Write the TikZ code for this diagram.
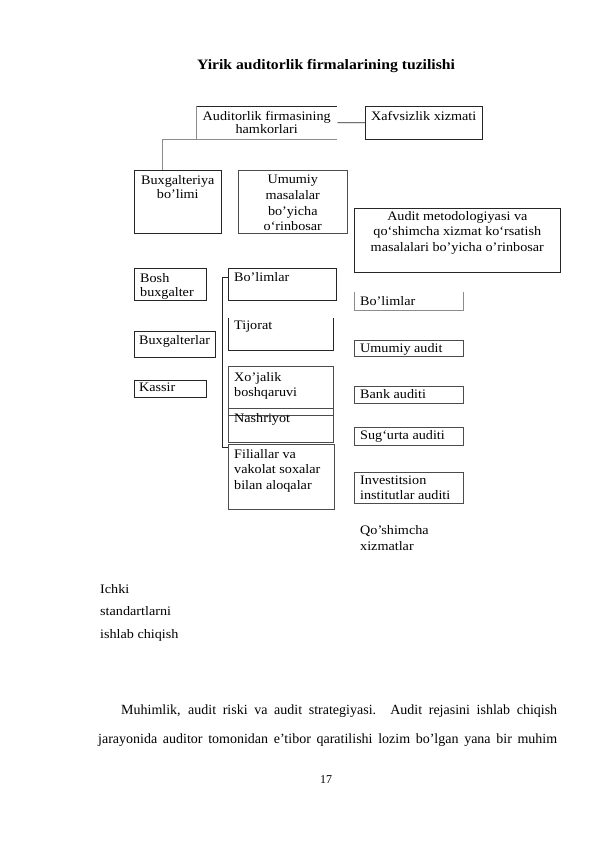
\documentclass[tikz,border=0pt]{standalone}
\usepackage{fontspec}
\setmainfont{Liberation Serif}
\newfontfamily\boxfont{Liberation Serif}[FakeStretch=1.09]
\usetikzlibrary{positioning}

\begin{document}
\begin{tikzpicture}[
  x=1pt, y=-1pt,
  every node/.style={font=\boxfont\fontsize{13}{15.6}\selectfont},
  box/.style={draw=black!85, line width=0.6pt, anchor=north west, inner sep=0pt},
  bare/.style={anchor=north west, inner sep=0pt},
  txt/.style={inner sep=0pt, align=center, anchor=north},
  txtl/.style={inner sep=0pt, align=left, anchor=north west},
  edge/.style={draw=black!85, line width=0.6pt},
  soft/.style={draw=black!45, line width=0.6pt}
]
\fill[white] (0,0) rectangle (595,842);
\useasboundingbox (0,0) rectangle (595,842);

% ----- Sarlavha -----
\node[font=\boxfont\fontsize{14.4}{16}\selectfont\bfseries] (title) at (326,66)
  {Yirik auditorlik firmalarining tuzilishi};

% ----- Yuqori qator -----
\node[bare, minimum width=141pt, minimum height=33pt] (hamkor) at (196,106) {};
\node[box, minimum width=117pt, minimum height=33pt] (xafv) at (365,106) {};
\draw[edge] (hamkor.north west) -- (hamkor.north east);
\draw[soft] (hamkor.north west) -- (hamkor.south west) -- (hamkor.south east);
\node[txt, font=\boxfont\fontsize{13}{13.5}\selectfont, below=5pt of hamkor.north]
  {Auditorlik firmasining\\hamkorlari};
\node[txtl, below right=5pt and 6pt of xafv.north west] {Xafvsizlik xizmati};

% ----- O'rinbosarlar -----
\node[box, minimum width=87pt, minimum height=63pt] (buxbol) at (134,170) {};
\node[box, draw=black!70, minimum width=109pt, minimum height=63pt] (umumiy) at (238,170) {};
\node[box, minimum width=206pt, minimum height=64pt] (metod) at (354,208) {};
\node[txt, font=\boxfont\fontsize{13}{14}\selectfont, below=5pt of buxbol.north]
  {Buxgalteriya\\bo’limi};
\node[txt, below=5pt of umumiy.north] {Umumiy\\masalalar\\bo’yicha\\o‘rinbosar};
\node[txt, below=3pt of metod.north]
  {Audit metodologiyasi va\\qo‘shimcha xizmat ko‘rsatish\\masalalari bo’yicha o’rinbosar};

% ----- Chap ustun -----
\node[box, minimum width=72pt, minimum height=32pt] (bosh) at (134,268) {};
\node[box, minimum width=81pt, minimum height=26pt] (buxlar) at (134,331) {};
\node[box, minimum width=72pt, minimum height=17pt] (kassir) at (134,380) {};
\node[txtl, font=\boxfont\fontsize{13}{14.5}\selectfont, below right=5pt and 6pt of bosh.north west]
  {Bosh\\buxgalter};
\node[txtl, below right=4pt and 5pt of buxlar.north west] {Buxgalterlar};
\node[txtl, below right=3pt and 5pt of kassir.north west] {Kassir};

% ----- O'rta ustun -----
\node[box, minimum width=108pt, minimum height=32pt] (bolim) at (228,268) {};
\node[bare, minimum width=105pt, minimum height=32pt] (tijorat) at (228,318) {};
\node[box, draw=black!70, minimum width=105pt, minimum height=49pt] (xojalik) at (228,366) {};
\node[box, draw=black!70, minimum width=105pt, minimum height=34pt] (nashr) at (228,408) {};
\node[box, draw=black!70, minimum width=106pt, minimum height=65pt] (filial) at (228,444) {};
\draw[edge] (tijorat.north west) -- (tijorat.south west) -- (tijorat.south east) -- (tijorat.north east);
\node[txtl, below right=4pt and 6pt of bolim.north west] {Bo’limlar};
\node[txtl, below right=3pt and 6pt of tijorat.north west] {Tijorat};
\node[txtl, below right=6pt and 6pt of xojalik.north west] {Xo’jalik\\boshqaruvi};
\node[txtl, below right=5pt and 6pt of nashr.north west] {Nashriyot};
\node[txtl, below right=5pt and 6pt of filial.north west]
  {Filiallar va\\vakolat soxalar\\bilan aloqalar};

% ----- O'ng ustun -----
\node[bare, minimum width=109pt, minimum height=18pt] (bolimr) at (354,292) {};
\node[box, draw=black!70, minimum width=109pt, minimum height=16pt] (umaudit) at (354,340) {};
\node[box, draw=black!70, minimum width=109pt, minimum height=17pt] (bank) at (354,386) {};
\node[box, draw=black!70, minimum width=109pt, minimum height=18pt] (sugurta) at (354,427) {};
\node[box, draw=black!70, minimum width=109pt, minimum height=31pt] (invest) at (354,472) {};
\draw[soft] (bolimr.north west) -- (bolimr.south west) -- (bolimr.south east) -- (bolimr.north east);
\node[txtl, below right=4pt and 6pt of bolimr.north west] {Bo’limlar};
\node[txtl, below right=3pt and 6pt of umaudit.north west] {Umumiy audit};
\node[txtl, below right=3pt and 6pt of bank.north west] {Bank auditi};
\node[txtl, below right=3pt and 6pt of sugurta.north west] {Sug‘urta auditi};
\node[txtl, font=\boxfont\fontsize{13}{14.5}\selectfont, below right=4pt and 6pt of invest.north west]
  {Investitsion\\institutlar auditi};
\node[txtl, font=\boxfont\fontsize{13}{16.5}\selectfont] (qoshim) at (360,525) {Qo’shimcha\\xizmatlar};

% ----- Bog'lanishlar -----
\draw[edge] (hamkor.east) -- (xafv.west);
\draw[soft] (hamkor.south west) -| ([xshift=28pt]buxbol.north west);
\draw[edge] ([yshift=-9pt]bolim.north west) -- ++(-6,0) |- ([yshift=-3pt]filial.north west);

% ----- Matn -----
\node[txtl, font=\boxfont\fontsize{13}{22.5}\selectfont] (ichki) at (100,584)
  {Ichki\\standartlarni\\ishlab chiqish};
\node[anchor=west, inner sep=0pt, font=\fontsize{14}{16}\selectfont] (par1) at (121,711)
  {\makebox[436pt][s]{Muhimlik, audit riski va audit strategiyasi. Audit rejasini ishlab chiqish}};
\node[anchor=west, inner sep=0pt, font=\fontsize{14}{16}\selectfont] (par2) at (98,740)
  {\makebox[459pt][s]{jarayonida auditor tomonidan e’tibor qaratilishi lozim bo’lgan yana bir muhim}};
\node[font=\fontsize{12}{14}\selectfont] (sahifa) at (326,780) {17};

\end{tikzpicture}
\end{document}
